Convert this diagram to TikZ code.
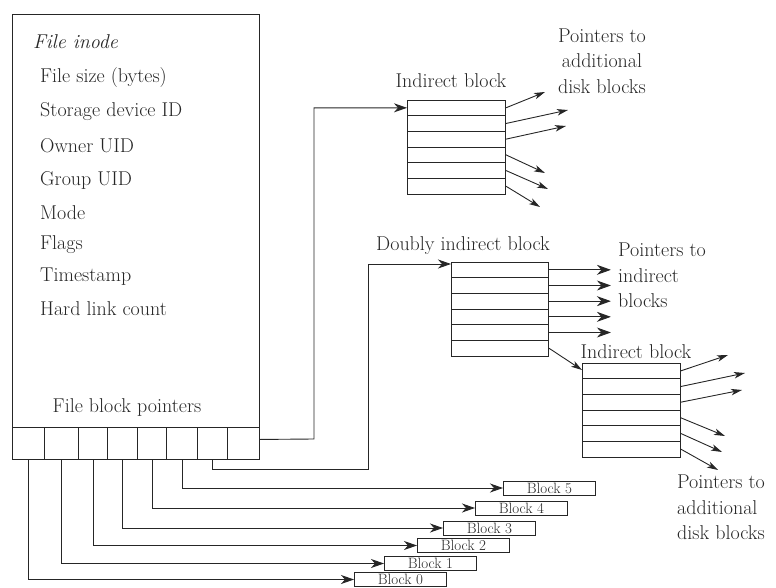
\documentclass[tikz,border=0pt]{standalone}
\usetikzlibrary{arrows.meta,calc}
\definecolor{ink}{HTML}{262626}
\begin{document}
\begin{tikzpicture}[x=1pt,y=-1pt,
  ln/.style={draw=ink, line width=0.9pt},
  box/.style={ln, inner sep=0pt, anchor=north west},
  lbl/.style={font=\fontsize{20}{25.5}\selectfont, text=ink, inner sep=0pt},
  blk/.style={ln, inner sep=0pt, anchor=west, minimum width=92pt, minimum height=14pt,
    font=\fontsize{15}{15}\selectfont, text=ink},
  bigarr/.style={ln, -{Stealth[length=13pt,width=9pt,inset=4pt]}},
  dblarr/.style={ln, -{Stealth[length=14pt,width=10pt,inset=4.5pt]}},
  thinarr/.style={ln, -{Stealth[length=11pt,width=6.5pt,inset=3pt]}}]
\useasboundingbox (0,0) rectangle (776,588);

% ---------- the inode ----------
\node[box, minimum width=247pt, minimum height=445pt] (inode) at (12,14) {};
\foreach \a/\b [count=\i] in {12/44,44/78,78/107,107/137,137/166,166/197,197/227,227/259}
  \node[box, minimum width={\b pt-\a pt}, minimum height=32pt] (c\i) at (\a,427) {};

\node[lbl, anchor=west, font=\fontsize{20}{24}\selectfont\itshape] (title) at (33,42) {File inode};
\foreach \t/\y [count=\i] in {File size (bytes)/78, Storage device ID/112, Owner UID/146,
    Group UID/180, Mode/213, Flags/245, Timestamp/277, Hard link count/309}
  \node[lbl, anchor=west] (f\i) at (40,\y) {\t};
\node[lbl] (fbp) at (127,408) {File block pointers};

% ---------- direct data blocks ----------
\node[blk] (b5) at (503,488) {Block 5};
\node[blk] (b4) at (475,508) {Block 4};
\node[blk] (b3) at (443,528) {Block 3};
\node[blk] (b2) at (417,545.5) {Block 2};
\node[blk] (b1) at (384,563.5) {Block 1};
\node[blk] (b0) at (354,579.5) {Block 0};

\draw[bigarr] (c1.south) |- (b0.west);
\draw[bigarr] (c2.south) |- (b1.west);
\draw[bigarr] (c3.south) |- (b2.west);
\draw[bigarr] (c4.south) |- (b3.west);
\draw[bigarr] (c5.south) |- (b4.west);
\draw[bigarr] (c6.south) |- (b5.west);

% ---------- indirect block ----------
\node[box, minimum width=98pt, minimum height=94pt] (ib1) at (407,100) {};
\foreach \k in {1,...,5}
  \draw[ln] ($(ib1.north west)+(0,{\k*94/6})$) -- ($(ib1.north east)+(0,{\k*94/6})$);
\node[lbl] (ib1lbl) at (451,81) {Indirect block};

\coordinate (p11) at (545,92);
\coordinate (p12) at (568,110);
\coordinate (p13) at (566,126);
\coordinate (p14) at (545,173);
\coordinate (p15) at (548,189);
\coordinate (p16) at (540,207);
\foreach \k in {1,...,6}
  \draw[thinarr] ($(ib1.north east)+(0,{(\k-0.5)*94/6})$) -- (p1\k);

\node[lbl, align=center] (ptr1) at (602,61) {Pointers to\\additional\\disk blocks};

\coordinate (k1) at (314,439);
\draw[bigarr] ($(c8.east)+(0,-4)$) -- (k1) |- ($(ib1.north west)+(0,{0.5*94/6})$);

% ---------- doubly indirect block ----------
\node[box, minimum width=97pt, minimum height=94pt] (db) at (451,262) {};
\foreach \k in {1,...,5}
  \draw[ln] ($(db.north west)+(0,{\k*94/6})$) -- ($(db.north east)+(0,{\k*94/6})$);
\node[lbl] (dblbl) at (463,246) {Doubly indirect block};

\foreach \k in {1,...,5}
  \draw[dblarr] ($(db.north east)+(0,{(\k-0.5)*94/6})$) -- ++(62,0);

\node[lbl, align=left, anchor=north west] (ptr2) at (618,243) {Pointers to\\indirect\\blocks};

\coordinate (k2) at (368,469);
\draw[bigarr] (c7.south) |- (k2) |- ($(db.north west)+(0,2)$);

% ---------- second-level indirect block ----------
\node[box, minimum width=98pt, minimum height=94pt] (ib2) at (582,363) {};
\foreach \k in {1,...,5}
  \draw[ln] ($(ib2.north west)+(0,{\k*94/6})$) -- ($(ib2.north east)+(0,{\k*94/6})$);
\node[lbl] (ib2lbl) at (636,352) {Indirect block};

\draw[thinarr] ($(db.north east)+(0,{5.5*94/6})$) -- ($(ib2.north west)+(0,7)$);

\coordinate (p21) at (728,355);
\coordinate (p22) at (745,373);
\coordinate (p23) at (742,390);
\coordinate (p24) at (725,436);
\coordinate (p25) at (722,452);
\coordinate (p26) at (718,470);
\foreach \k in {1,...,6}
  \draw[thinarr] ($(ib2.north east)+(0,{(\k-0.5)*94/6})$) -- (p2\k);

\node[lbl, align=left, anchor=north west] (ptr3) at (677,475) {Pointers to\\additional\\disk blocks};
\end{tikzpicture}
\end{document}
